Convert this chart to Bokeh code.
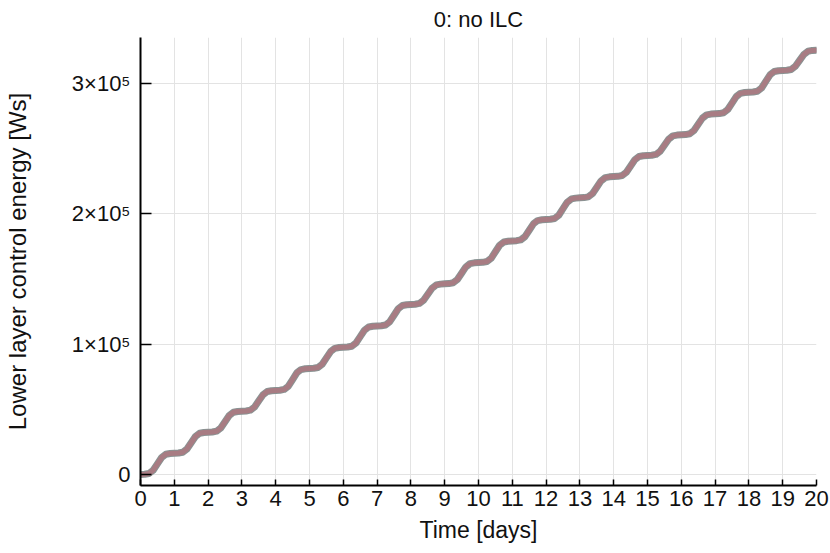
import numpy as np
from bokeh.plotting import figure
from bokeh.models import FixedTicker, Range1d
from bokeh.embed import file_html
from bokeh.resources import INLINE

# Time grid: 8 samples per day, days 0..20
time_days = np.linspace(0.0, 20.0, 161)

# Lower layer control energy [Ws] (8 samples per day)
energy_ws = [
    0, 200, 800, 3300, 8150, 13000, 15500, 16100,
    16300, 16500, 17100, 19600, 24350, 29100, 31600, 32200,
    32400, 32600, 33200, 35700, 40450, 45200, 47700, 48300,
    48500, 48700, 49300, 51800, 56450, 61100, 63600, 64200,
    64400, 64600, 65200, 67700, 72800, 77900, 80400, 81000,
    81200, 81400, 82000, 84500, 89350, 94200, 96700, 97300,
    97500, 97700, 98300, 100800, 105650, 110500, 113000, 113600,
    113800, 114000, 114600, 117100, 122050, 127000, 129500, 130100,
    130300, 130500, 131100, 133600, 138200, 142800, 145300, 145900,
    146100, 146300, 146900, 149400, 154250, 159100, 161600, 162200,
    162400, 162600, 163200, 165700, 170700, 175700, 178200, 178800,
    179000, 179200, 179800, 182300, 187200, 192100, 194600, 195200,
    195400, 195600, 196200, 198700, 203700, 208700, 211200, 211800,
    212000, 212200, 212800, 215300, 220150, 225000, 227500, 228100,
    228300, 228500, 229100, 231600, 236400, 241200, 243700, 244300,
    244500, 244700, 245300, 247800, 252400, 257000, 259500, 260100,
    260300, 260500, 261100, 263600, 268350, 273100, 275600, 276200,
    276400, 276600, 277200, 279700, 284650, 289600, 292100, 292700,
    292900, 293100, 293700, 296200, 301250, 306300, 308800, 309400,
    309600, 309800, 310400, 312900, 317400, 321900, 324400, 325000,
    325200,
]

x_ticks = list(range(0, 21))
y_ticks = [0, 100000, 200000, 300000]
y_tick_labels = ["0", "1×10⁵", "2×10⁵", "3×10⁵"]

title_text = "0: no ILC"
x_label = "Time [days]"
y_label = "Lower layer control energy [Ws]"

FONT = "Liberation Sans"

p = figure(
    width=830, height=553,
    output_backend="svg", toolbar_location=None,
    x_range=Range1d(0, 20), y_range=Range1d(-8430, 334900),
    min_border_left=140, min_border_right=14,
    min_border_top=37, min_border_bottom=68,
    title=title_text,
)

p.title.text_font = FONT
p.title.text_font_size = "22px"
p.title.text_font_style = "normal"
p.title.align = "center"
p.title.vertical_align = "top"
p.title.text_color = "#111111"
p.title.standoff = 8

p.outline_line_color = None
p.background_fill_color = "white"
p.border_fill_color = "white"

# grids
for g in (p.xgrid, p.ygrid):
    g.grid_line_color = "#e3e3e3"
    g.grid_line_width = 1

# axes
p.xaxis.ticker = FixedTicker(ticks=x_ticks)
p.yaxis.ticker = FixedTicker(ticks=y_ticks)
p.yaxis.major_label_overrides = {t: l for t, l in zip(y_ticks, y_tick_labels)}

for ax in (p.xaxis, p.yaxis):
    ax.axis_line_color = "black"
    ax.axis_line_width = 2
    ax.major_tick_line_color = "black"
    ax.major_tick_line_width = 1.5
    ax.major_tick_out = 0
    ax.minor_tick_line_color = None
    ax.major_label_text_font = FONT
    ax.major_label_text_font_size = "22px"
    ax.major_label_text_color = "#111111"
    ax.axis_label_text_font = FONT
    ax.axis_label_text_font_style = "normal"
    ax.axis_label_text_color = "#111111"

p.xaxis.axis_label_text_font_size = "23px"
p.yaxis.axis_label_text_font_size = "24px"
p.xaxis.major_tick_in = 6
p.yaxis.major_tick_in = 11
p.xaxis.major_label_standoff = 5
p.yaxis.major_label_standoff = 10
p.xaxis.axis_label = x_label
p.yaxis.axis_label = y_label
p.xaxis.axis_label_standoff = 8
p.yaxis.axis_label_standoff = 38

# the thick line: gray outline with a rose core
p.line(time_days, energy_ws, line_color="#8a9393", line_width=7,
       line_join="round", line_cap="round")
p.line(time_days, energy_ws, line_color="#a87c83", line_width=5,
       line_join="round", line_cap="round")

open("out.html", "w").write(file_html(p, INLINE))
